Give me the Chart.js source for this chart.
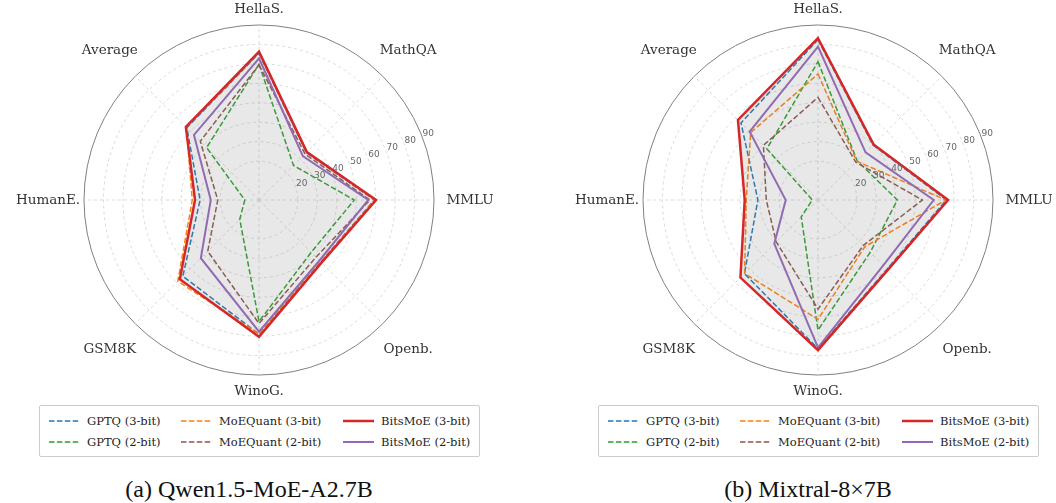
<!DOCTYPE html>
<html lang="en">
<head>
<meta charset="UTF-8" />
<title>Radar comparison</title>
<script src="https://cdn.jsdelivr.net/npm/chart.js"></script>
<style>
  body { margin: 0; background: #fff; overflow: hidden; }
  #page { position: relative; width: 1056px; height: 503px; }
  canvas { position: absolute; top: 0; }
  .legend {
    position: absolute; top: 405px; width: 439px; height: 50px;
    border: 1px solid #ccc; border-radius: 2px; background: #fff;
    font-family: "DejaVu Serif", serif; font-size: 11.5px; color: #222;
  }
  .item { position: absolute; display: flex; align-items: center; height: 16px; white-space: nowrap; }
  .item svg { margin-right: 7px; }
  .caption {
    position: absolute; top: 474px; width: 400px; text-align: center;
    font-family: "Liberation Serif", "Times New Roman", serif; font-size: 24px; color: #111;
    line-height: 30px;
  }
</style>
</head>
<body>
<div id="page">
  <canvas id="chartA" width="520" height="400" style="left:0"></canvas>
  <canvas id="chartB" width="520" height="400" style="left:559px"></canvas>
  <div class="legend" id="legendA" style="left:39px"></div>
  <div class="legend" id="legendB" style="left:598px"></div>
  <div class="caption" style="left:49px">(a) Qwen1.5-MoE-A2.7B</div>
  <div class="caption" style="left:608px">(b) Mixtral-8×7B</div>
</div>

<script>
const labels = ['HellaS.', 'MathQA', 'MMLU', 'Openb.', 'WinoG.', 'GSM8K', 'HumanE.', 'Average'];
const rTicks = [20, 30, 40, 50, 60, 70, 80, 90];
const seriesNames = ['GPTQ (3-bit)', 'GPTQ (2-bit)', 'MoEQuant (3-bit)', 'MoEQuant (2-bit)', 'BitsMoE (3-bit)', 'BitsMoE (2-bit)'];

// Qwen1.5-MoE-A2.7B
const qwenGptq3 = [75.5, 34.5, 59.3, 45.0, 69.0, 55.4, 30.3, 52.5];
const qwenGptq2 = [69.8, 25.1, 49.0, 38.0, 62.5, 14.0, 7.3, 38.1];
const qwenMoeq3 = [75.8, 35.0, 59.5, 45.0, 68.8, 59.1, 34.3, 52.8];
const qwenMoeq2 = [69.5, 33.5, 57.0, 41.5, 63.5, 37.3, 21.2, 42.7];
const qwenBits3 = [76.3, 34.8, 60.2, 45.5, 70.3, 57.6, 32.9, 53.2];
const qwenBits2 = [72.9, 31.9, 56.2, 44.0, 67.7, 42.3, 24.8, 47.3];

// Mixtral-8x7B
const mixGptq3 = [82.5, 40.0, 66.0, 50.3, 76.5, 53.5, 30.9, 56.0];
const mixGptq2 = [71.1, 28.5, 40.8, 38.0, 66.9, 12.2, 2.9, 37.2];
const mixMoeq3 = [64.8, 28.2, 65.7, 34.0, 61.4, 53.4, 36.9, 49.0];
const mixMoeq2 = [52.8, 27.5, 53.7, 33.0, 56.1, 30.4, 26.6, 39.7];
const mixBits3 = [83.2, 40.4, 66.9, 50.8, 77.2, 56.4, 37.7, 58.2];
const mixBits2 = [78.9, 34.6, 59.5, 47.5, 75.9, 31.8, 16.6, 49.7];

// styles per series, same order as seriesNames
const colors = ['#1f77b4', '#2ca02c', '#ff7f0e', '#8c564b', '#d62728', '#9467bd'];
const dashed = [true, true, true, true, false, false];
const widths = [1.5, 1.5, 1.5, 1.5, 2.5, 2];
const orders = [3, 5, 2, 4, 0, 1];

function makeDatasets(values) {
  return values.map((data, i) => ({
    label: seriesNames[i],
    data: data,
    borderColor: colors[i],
    borderWidth: widths[i],
    borderDash: dashed[i] ? [5.5, 2.4] : [],
    pointRadius: 0,
    pointHoverRadius: 0,
    tension: 0,
    order: orders[i],
    fill: i === 4,
    backgroundColor: i === 4 ? 'rgba(128,128,128,0.18)' : 'rgba(0,0,0,0)'
  }));
}

const radarText = {
  id: 'radarText',
  afterDatasetsDraw(chart) {
    const s = chart.scales.r;
    const ctx = chart.ctx;
    ctx.save();
    ctx.textAlign = 'center';
    ctx.textBaseline = 'middle';
    ctx.font = '9px "DejaVu Sans"';
    ctx.fillStyle = '#666';
    const a = 21.5 * Math.PI / 180;
    rTicks.forEach(v => {
      const d = s.getDistanceFromCenterForValue(v) + 7;
      ctx.fillText(String(v), s.xCenter + d * Math.cos(a), s.yCenter - d * Math.sin(a));
    });
    ctx.font = '13.5px "DejaVu Serif"';
    ctx.fillStyle = '#333';
    chart.data.labels.forEach((lab, i) => {
      const d = s.drawingArea + (i % 4 === 0 ? 16 : 36);
      const p = s.getPointPosition(i, d);
      ctx.fillText(lab, p.x, p.y);
    });
    ctx.restore();
  }
};

function createChart(id, values) {
  return new Chart(document.getElementById(id).getContext('2d'), {
    type: 'radar',
    data: { labels: labels, datasets: makeDatasets(values) },
    options: {
      responsive: false,
      animation: false,
      devicePixelRatio: 1,
      layout: { padding: { left: 84, right: 86, top: 25, bottom: 25 } },
      plugins: { legend: { display: false }, tooltip: { enabled: false } },
      scales: {
        r: {
          min: 0,
          max: 90,
          ticks: { display: false, stepSize: 10 },
          pointLabels: { display: false },
          grid: {
            circular: true,
            color: c => c.tick.value === 90 ? '#808080' : (c.tick.value < 20 ? 'rgba(0,0,0,0)' : '#d2d2d2'),
            lineWidth: c => c.tick.value === 90 ? 1 : 0.8
          },
          border: { dash: c => (c.tick && c.tick.value === 90) ? [] : [3, 3] },
          angleLines: { color: '#d2d2d2', lineWidth: 0.8, borderDash: [3, 3] }
        }
      }
    },
    plugins: [radarText]
  });
}

function buildLegend(id) {
  const box = document.getElementById(id);
  const colX = [9, 141, 303];
  const rowY = [7, 28];
  seriesNames.forEach((name, i) => {
    const item = document.createElement('div');
    item.className = 'item';
    item.style.left = colX[Math.floor(i / 2)] + 'px';
    item.style.top = rowY[i % 2] + 'px';
    const dash = dashed[i] ? ' stroke-dasharray="5.5 2.4"' : '';
    item.innerHTML = '<svg width="31" height="6"><line x1="0" y1="3" x2="31" y2="3" stroke="' + colors[i] +
      '" stroke-width="' + widths[i] + '"' + dash + '/></svg><span>' + name + '</span>';
    box.appendChild(item);
  });
}

createChart('chartA', [qwenGptq3, qwenGptq2, qwenMoeq3, qwenMoeq2, qwenBits3, qwenBits2]);
createChart('chartB', [mixGptq3, mixGptq2, mixMoeq3, mixMoeq2, mixBits3, mixBits2]);
buildLegend('legendA');
buildLegend('legendB');
</script>
</body>
</html>
